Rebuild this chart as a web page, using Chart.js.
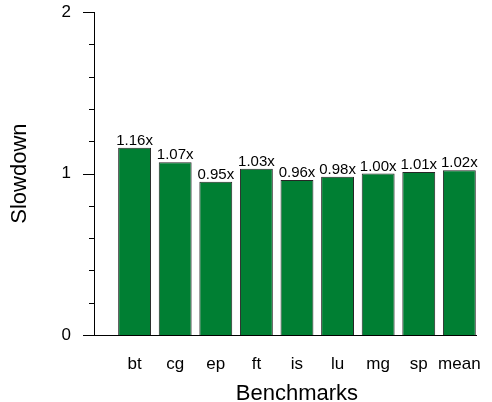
<!DOCTYPE html>
<html>
<head>
<meta charset="utf-8">
<script src="https://cdn.jsdelivr.net/npm/chart.js@4"></script>
<style>
  html, body { margin: 0; padding: 0; background: #fff; }
  #wrap { width: 492px; height: 402px; }
</style>
</head>
<body>
<div id="wrap"><canvas id="chart"></canvas></div>
<script>
// dados
const benchmarks = ['bt', 'cg', 'ep', 'ft', 'is', 'lu', 'mg', 'sp', 'mean'];
const slowdown   = [1.16, 1.07, 0.95, 1.03, 0.96, 0.98, 1.00, 1.01, 1.02];
const yMajor     = [0, 1, 2];
const yMinor     = [0.2, 0.4, 0.6, 0.8, 1.2, 1.4, 1.6, 1.8];
const xTitle     = 'Benchmarks';

const FONT = "'Liberation Sans', Arial, sans-serif";

// ticks do eixo y desenhados à mão (maior e menor)
const yTicksPlugin = {
  id: 'yTicks',
  afterDraw(chart) {
    const { ctx, scales: { y }, chartArea } = chart;
    ctx.save();
    ctx.strokeStyle = '#000';
    ctx.lineWidth = 1;
    const draw = (v, len) => {
      const py = Math.round(y.getPixelForValue(v)) + 0.5;
      ctx.beginPath();
      ctx.moveTo(chartArea.left - len, py);
      ctx.lineTo(chartArea.left, py);
      ctx.stroke();
    };
    yMajor.forEach(v => draw(v, 11));
    yMinor.forEach(v => draw(v, 5));
    ctx.restore();
  }
};

// rótulos acima das barras + título do eixo x centrado nas barras
const barLabels = {
  id: 'barLabels',
  afterDatasetsDraw(chart) {
    const { ctx, scales: { x } } = chart;
    const meta = chart.getDatasetMeta(0);
    ctx.save();
    ctx.font = `15px ${FONT}`;
    ctx.fillStyle = '#000';
    ctx.textAlign = 'center';
    ctx.textBaseline = 'alphabetic';
    meta.data.forEach((bar, i) => {
      ctx.fillText(slowdown[i].toFixed(2) + 'x', bar.x, bar.y - 3);
    });
    const first = meta.data[0], last = meta.data[meta.data.length - 1];
    const cx = ((first.x - first.width / 2) + (last.x + last.width / 2)) / 2;
    ctx.font = `22px ${FONT}`;
    ctx.textBaseline = 'middle';
    ctx.fillText(xTitle, cx, x.bottom - 8.25);
    ctx.restore();
  }
};

new Chart(document.getElementById('chart'), {
  type: 'bar',
  data: {
    datasets: [{
      data: slowdown.map((v, i) => ({ x: i, y: v })),
      backgroundColor: '#007f33',
      borderColor: '#262626',
      borderWidth: 1,
      categoryPercentage: 1,
      barPercentage: 0.81,
    }],
  },
  options: {
    responsive: true,
    maintainAspectRatio: false,
    animation: false,
    layout: { padding: { top: 0, right: 16, left: 0, bottom: 0 } },
    plugins: {
      legend: { display: false },
      tooltip: { enabled: false },
    },
    scales: {
      x: {
        type: 'linear',
        offset: false,
        min: -1,
        max: 8.41,
        afterBuildTicks: (scale) => {
          scale.ticks = benchmarks.map((_, i) => ({ value: i }));
        },
        ticks: {
          autoSkip: false,
          maxRotation: 0,
          padding: 0,
          color: '#000',
          font: { family: FONT, size: 17 },
          callback: (v) => benchmarks[v] ?? '',
        },
        grid: { display: true, drawOnChartArea: false, drawTicks: true, tickLength: 19, tickColor: 'rgba(0,0,0,0)' },
        border: { display: true, color: '#000', width: 1 },
        // espaço reservado; o texto é desenhado no plugin
        title: {
          display: true,
          text: xTitle,
          color: 'rgba(0,0,0,0)',
          font: { family: FONT, size: 22, lineHeight: 0.75 },
          padding: { top: 11, bottom: 0 },
        },
      },
      y: {
        min: 0,
        max: 2,
        afterBuildTicks: (scale) => {
          scale.ticks = yMajor.map(v => ({ value: v }));
        },
        afterFit: (scale) => {
          scale.width = 94;
          scale.paddingTop = 12;
          scale.paddingBottom = 8;
        },
        ticks: {
          padding: 23,
          color: '#000',
          font: { family: FONT, size: 17 },
        },
        grid: { display: false, drawTicks: false },
        border: { display: true, color: '#000', width: 1 },
        title: {
          display: true,
          text: 'Slowdown',
          color: '#000',
          font: { family: FONT, size: 22 },
          padding: { top: 7, bottom: 0 },
        },
      },
    },
  },
  plugins: [yTicksPlugin, barLabels],
});
</script>
</body>
</html>
